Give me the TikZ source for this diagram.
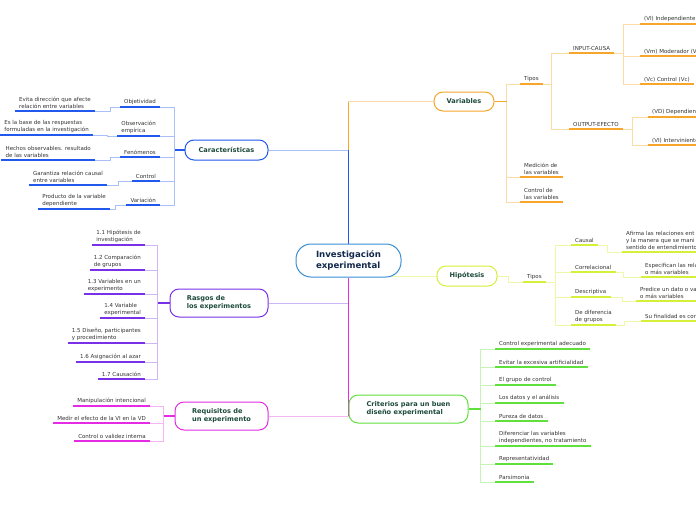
\documentclass[tikz,border=0pt]{standalone}
\usepackage{fontspec}
\setmainfont{DejaVu Sans}
\usetikzlibrary{positioning,calc,backgrounds}

\definecolor{ora}{HTML}{F7A62B}
\definecolor{oral}{HTML}{FDDBA6}
\definecolor{blu}{HTML}{2158EE}
\definecolor{blul}{HTML}{A9C1F8}
\definecolor{pur}{HTML}{7A30E6}
\definecolor{purl}{HTML}{CDB6F6}
\definecolor{mag}{HTML}{E32CE3}
\definecolor{magl}{HTML}{F6B5F3}
\definecolor{grn}{HTML}{5FE03C}
\definecolor{grnl}{HTML}{C6F3B7}
\definecolor{ygr}{HTML}{D6EF38}
\definecolor{ygrl}{HTML}{EEF8A8}
\definecolor{cblu}{HTML}{3A8ED6}
\definecolor{invtxt}{HTML}{13294B}
\definecolor{topictxt}{HTML}{1C4A3A}
\definecolor{leaftxt}{HTML}{333333}

\begin{document}
\begin{tikzpicture}[x=1pt,y=-1pt,
    topic/.style={draw=#1,fill=white,rounded corners=9pt,line width=1pt,align=left,inner sep=0pt,text=topictxt,font=\fontsize{6.6}{8}\selectfont\bfseries},
    leafl/.style={anchor=south east,align=left,inner xsep=4pt,inner ysep=2pt,text=leaftxt,font=\fontsize{5.5}{7}\selectfont,
      append after command={(\tikzlastnode.south west) edge[draw=#1,line width=1.3pt] (\tikzlastnode.south east)}},
    leafr/.style={leafl=#1,anchor=south west},
    link/.style={draw=#1,line width=0.9pt},
    trunk/.style={draw=#1,line width=1.6pt}
  ]
    \useasboundingbox (0,0) rectangle (696,520);

    \node[topic=cblu,rounded corners=15pt,minimum width=105pt,minimum height=33pt,text=invtxt,font=\fontsize{8.6}{10.5}\selectfont\bfseries] (inv) at (348.5,260.5) {Investigación\\experimental};
    \node[topic=ora,minimum width=60pt,minimum height=19pt] (var) at (464,101.5) {Variables};
    \node[topic=blu,minimum width=83pt,minimum height=20pt] (car) at (226.5,150) {Características};
    \node[topic=ygr,minimum width=60pt,minimum height=20pt] (hip) at (467,276) {Hipótesis};
    \node[topic=pur,minimum width=98pt,minimum height=28pt] (ras) at (219,303) {Rasgos de\\los experimentos};
    \node[topic=mag,minimum width=93pt,minimum height=28pt] (req) at (221.5,416) {Requisitos de\\un experimento};
    \node[topic=grn,minimum width=119pt,minimum height=28pt] (cri) at (408.5,409) {Criterios para un buen\\diseño experimental};

    \node[leafl=blu] (obj) at (160,107) {Objetividad};
    \node[leafl=blu] (obs) at (160,136) {Observación\\empírica};
    \node[leafl=blu] (fen) at (160,157) {Fenómenos};
    \node[leafl=blu] (ctr) at (160,181) {Control};
    \node[leafl=blu] (vrc) at (160,205) {Variación};
    \node[leafl=blu] (obj1) at (95,111) {Evita dirección que afecte\\relación entre variables};
    \node[leafl=blu] (obs1) at (93,135) {Es la base de las respuestas\\formuladas en la investigación};
    \node[leafl=blu] (fen1) at (95,160) {Hechos observables. resultado\\de las variables};
    \node[leafl=blu] (ctr1) at (107,185) {Garantiza relación causal\\entre variables};
    \node[leafl=blu] (vrc1) at (110,209) {Producto de la variable\\dependiente};

    \node[leafl=pur] (r1) at (145,245) {1.1 Hipótesis de\\investigación};
    \node[leafl=pur] (r2) at (145,270) {1.2 Comparación\\de grupos};
    \node[leafl=pur] (r3) at (145,294) {1.3 Variables en un\\experimento};
    \node[leafl=pur] (r4) at (145,318) {1.4 Variable\\experimental};
    \node[leafl=pur] (r5) at (145,343) {1.5 Diseño, participantes\\y procedimiento};
    \node[leafl=pur] (r6) at (145,362) {1.6 Asignación al azar};
    \node[leafl=pur] (r7) at (145,379) {1.7 Causación};

    \node[leafl=mag] (q1) at (150,406) {Manipulación intencional};
    \node[leafl=mag] (q2) at (150,423) {Medir el efecto de la VI en la VD};
    \node[leafl=mag] (q3) at (150,441) {Control o validez interna};

    \node[leafr=ora] (vtip) at (520,84) {Tipos};
    \node[leafr=ora] (vin) at (569,53) {INPUT-CAUSA};
    \node[leafr=ora] (vout) at (569,129) {OUTPUT-EFECTO};
    \node[leafr=ora] (vi) at (640,24) {(VI) Independiente};
    \node[leafr=ora] (vm) at (640,56) {(Vm) Moderador (Vm)};
    \node[leafr=ora] (vc) at (640,84) {(Vc) Control (Vc)};
    \node[leafr=ora] (vd) at (648,117) {(VD) Dependiente};
    \node[leafr=ora] (vv) at (648,145) {(VI) Interviniente};
    \node[leafr=ora] (vmed) at (520,177) {Medición de\\las variables};
    \node[leafr=ora] (vctl) at (520,202) {Control de\\las variables};

    \node[leafr=ygr] (htip) at (523,282) {Tipos};
    \node[leafr=ygr] (hcau) at (571,245) {Causal};
    \node[leafr=ygr] (hcor) at (571,272) {Correlacional};
    \node[leafr=ygr] (hdes) at (571,297) {Descriptiva};
    \node[leafr=ygr] (hdif) at (571,325) {De diferencia\\de grupos};
    \node[leafr=ygr] (hcau1) at (622,252) {Afirma las relaciones ent\\y la manera que se mani\\sentido de entendimiento};
    \node[leafr=ygr] (hcor1) at (641,277) {Especifican las rela\\o más variables};
    \node[leafr=ygr] (hdes1) at (636,301) {Predice un dato o va\\o más variables};
    \node[leafr=ygr] (hdif1) at (641,321) {Su finalidad es con};

    \node[leafr=grn] (c1) at (495,349) {Control experimental adecuado};
    \node[leafr=grn] (c2) at (495,367) {Evitar la excesiva artificialidad};
    \node[leafr=grn] (c3) at (495,385) {El grupo de control};
    \node[leafr=grn] (c4) at (495,403) {Los datos y el análisis};
    \node[leafr=grn] (c5) at (495,421) {Pureza de datos};
    \node[leafr=grn] (c6) at (495,446) {Diferenciar las variables\\independientes, no tratamiento};
    \node[leafr=grn] (c7) at (495,464) {Representatividad};
    \node[leafr=grn] (c8) at (495,482) {Parsimonia};

    \begin{scope}[on background layer]
    \draw[link=oral] (inv.north) |- (var.west);
    \draw[link=blul] (inv.north) |- (car.east);
    \draw[link=ygrl] (hip.west) -- (hip.west -| inv.center);
    \draw[link=purl] (inv.south) |- (ras.east);
    \draw[link=magl] (inv.south) |- (req.east);
    \draw[link=grnl] (inv.south) |- (cri.west);
    \draw[trunk=blu] (inv.north) -- (inv.north |- car.east);
    \draw[trunk=ora] (inv.north |- car.east) -- (inv.north |- var.west);
    \draw[trunk=mag] (inv.south) -- (inv.south |- req.east);

    \draw[link=blul] (car.west) -- ++(-10,0) |- (obj.south east);
    \draw[link=blul] (car.west) -- ++(-10,0) |- (obs.south east);
    \draw[link=blul] (car.west) -- ++(-10,0) |- (fen.south east);
    \draw[link=blul] (car.west) -- ++(-10,0) |- (ctr.south east);
    \draw[link=blul] (car.west) -- ++(-10,0) |- (vrc.south east);
    \draw[trunk=blu] (car.west) -- ++(-10,0);
    \draw[link=blul] (obj.south west) -- ++(-10,0) |- (obj1.south east);
    \draw[link=blul] (obs.south west) -- ++(-10,0) |- (obs1.south east);
    \draw[link=blul] (fen.south west) -- ++(-10,0) |- (fen1.south east);
    \draw[link=blul] (ctr.south west) -- ++(-13,0) |- (ctr1.south east);
    \draw[link=blul] (vrc.south west) -- ++(-11,0) |- (vrc1.south east);

    \draw[link=purl] (ras.west) -- ++(-12,0) |- (r1.south east);
    \draw[link=purl] (ras.west) -- ++(-12,0) |- (r2.south east);
    \draw[link=purl] (ras.west) -- ++(-12,0) |- (r3.south east);
    \draw[link=purl] (ras.west) -- ++(-12,0) |- (r4.south east);
    \draw[link=purl] (ras.west) -- ++(-12,0) |- (r5.south east);
    \draw[link=purl] (ras.west) -- ++(-12,0) |- (r6.south east);
    \draw[link=purl] (ras.west) -- ++(-12,0) |- (r7.south east);
    \draw[trunk=pur] (ras.west) -- ++(-12,0);

    \draw[link=magl] (req.west) -- ++(-11,0) |- (q1.south east);
    \draw[link=magl] (req.west) -- ++(-11,0) |- (q2.south east);
    \draw[link=magl] (req.west) -- ++(-11,0) |- (q3.south east);
    \draw[trunk=mag] (req.west) -- ++(-11,0);

    \draw[link=oral] (var.east) -- ++(12,0) |- (vtip.south west);
    \draw[link=oral] (var.east) -- ++(12,0) |- (vmed.south west);
    \draw[link=oral] (var.east) -- ++(12,0) |- (vctl.south west);
    \draw[trunk=ora] (var.east) -- ++(12,0);
    \draw[link=oral] (vtip.south east) -- ++(9,0) |- (vin.south west);
    \draw[link=oral] (vtip.south east) -- ++(9,0) |- (vout.south west);
    \draw[link=oral] (vin.south east) -- ++(9,0) |- (vi.south west);
    \draw[link=oral] (vin.south east) -- ++(9,0) |- (vm.south west);
    \draw[link=oral] (vin.south east) -- ++(9,0) |- (vc.south west);
    \draw[link=oral] (vout.south east) -- ++(10,0) |- (vd.south west);
    \draw[link=oral] (vout.south east) -- ++(10,0) |- (vv.south west);

    \draw[link=ygrl] (hip.east) -- ++(11,0) |- (htip.south west);
    \draw[link=ygrl] (htip.south east) -- ++(10,0) |- (hcau.south west);
    \draw[link=ygrl] (htip.south east) -- ++(10,0) |- (hcor.south west);
    \draw[link=ygrl] (htip.south east) -- ++(10,0) |- (hdes.south west);
    \draw[link=ygrl] (htip.south east) -- ++(10,0) |- (hdif.south west);
    \draw[link=ygrl] (hcau.south east) -- ++(10,0) |- (hcau1.south west);
    \draw[link=ygrl] (hcor.south east) -- ++(8,0) |- (hcor1.south west);
    \draw[link=ygrl] (hdes.south east) -- ++(12,0) |- (hdes1.south west);
    \draw[link=ygrl] (hdif.south east) -- ++(8,0) |- (hdif1.south west);

    \draw[link=grnl] (cri.east) -- ++(12,0) |- (c1.south west);
    \draw[link=grnl] (cri.east) -- ++(12,0) |- (c2.south west);
    \draw[link=grnl] (cri.east) -- ++(12,0) |- (c3.south west);
    \draw[link=grnl] (cri.east) -- ++(12,0) |- (c4.south west);
    \draw[link=grnl] (cri.east) -- ++(12,0) |- (c5.south west);
    \draw[link=grnl] (cri.east) -- ++(12,0) |- (c6.south west);
    \draw[link=grnl] (cri.east) -- ++(12,0) |- (c7.south west);
    \draw[link=grnl] (cri.east) -- ++(12,0) |- (c8.south west);
    \draw[trunk=grn] (cri.east) -- ++(12,0);
    \end{scope}
  \end{tikzpicture}
\end{document}
